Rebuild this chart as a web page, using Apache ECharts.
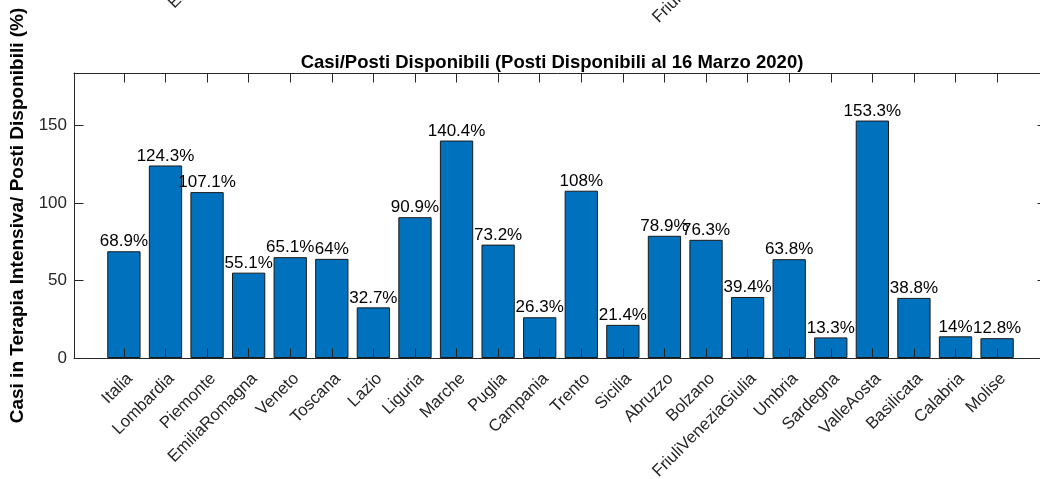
<!DOCTYPE html>
<html>
<head>
<meta charset="utf-8">
<script src="https://cdn.jsdelivr.net/npm/echarts@6/dist/echarts.min.js"></script>
<style>
  html, body { margin: 0; padding: 0; background: #fff; }
</style>
</head>
<body>
<div id="main" style="width: 1040px;height: 479px;"></div>
<script>
  // regioni e percentuale casi / posti disponibili
  var regions = ['Italia', 'Lombardia', 'Piemonte', 'EmiliaRomagna', 'Veneto', 'Toscana', 'Lazio',
    'Liguria', 'Marche', 'Puglia', 'Campania', 'Trento', 'Sicilia', 'Abruzzo', 'Bolzano',
    'FriuliVeneziaGiulia', 'Umbria', 'Sardegna', 'ValleAosta', 'Basilicata', 'Calabria', 'Molise']
  var percentages = [68.9, 124.3, 107.1, 55.1, 65.1, 64, 32.7, 90.9, 140.4, 73.2, 26.3,
    108, 21.4, 78.9, 76.3, 39.4, 63.8, 13.3, 153.3, 38.8, 14, 12.8]
  var yTicks = [0, 50, 100, 150]
  var yMax = 184

  var positions = regions.map(function (r, i) { return i + 1 })
  var font = "'Liberation Sans', Arial, Helvetica, sans-serif"
  var axisColor = '#262626'

  var chart = echarts.init(document.getElementById('main'))

  var xLabel = {
    customValues: positions,
    rotate: 45,
    margin: 12,
    verticalAlign: 'top',
    fontFamily: font,
    fontSize: 16.8,
    color: axisColor,
    formatter: function (v) { return regions[v - 1] || '' }
  }

  var xBase = {
    type: 'value',
    min: -0.2,
    max: regions.length + 1.2,
    splitLine: { show: false },
    axisLine: { show: true, onZero: false, lineStyle: { color: axisColor, width: 1 } },
    axisTick: { show: true, inside: true, length: 9.5, customValues: positions, lineStyle: { color: axisColor } },
    z: 5
  }

  var yBase = {
    type: 'value',
    gridIndex: 0,
    min: 0,
    max: yMax,
    splitLine: { show: false },
    axisLine: { show: true, onZero: false, lineStyle: { color: axisColor, width: 1 } },
    axisTick: { show: true, inside: true, length: 9.5, customValues: yTicks, lineStyle: { color: axisColor } },
    z: 5
  }

  chart.setOption({
    animation: false,
    title: {
      text: 'Casi/Posti Disponibili (Posti Disponibili al 16 Marzo 2020)',
      left: 547,
      textAlign: 'center',
      top: 48,
      textStyle: { fontFamily: font, fontSize: 18.5, fontWeight: 'bold', color: '#000' }
    },
    grid: [
      { left: 74, top: 73, width: 973, height: 285, outerBoundsMode: 'none' },
      // griglia del grafico sopra: si vedono solo le etichette tagliate
      { left: 74, top: -381, width: 973, height: 285, outerBoundsMode: 'none' }
    ],
    xAxis: [
      Object.assign({}, xBase, { gridIndex: 0, position: 'bottom', axisLabel: xLabel }),
      Object.assign({}, xBase, { gridIndex: 0, position: 'top', axisLabel: { show: false } }),
      Object.assign({}, xBase, {
        gridIndex: 1,
        position: 'bottom',
        axisLine: { show: false },
        axisTick: { show: false },
        axisLabel: xLabel
      })
    ],
    yAxis: [
      Object.assign({}, yBase, {
        position: 'left',
        name: 'Casi in Terapia Intensiva/ Posti Disponibili (%)',
        nameLocation: 'middle',
        nameGap: 24,
        nameTextStyle: { fontFamily: font, fontSize: 19, fontWeight: 'bold', color: '#000' },
        axisLabel: { customValues: yTicks, margin: 7, fontFamily: font, fontSize: 17, color: axisColor }
      }),
      Object.assign({}, yBase, { position: 'right', axisLabel: { show: false } }),
      { type: 'value', gridIndex: 1, min: 0, max: yMax, show: false }
    ],
    series: [{
      type: 'bar',
      xAxisIndex: 0,
      yAxisIndex: 0,
      barWidth: 33.3,
      data: percentages.map(function (v, i) { return [positions[i], v] }),
      itemStyle: { color: '#0072BD', borderColor: '#1a1a1a', borderWidth: 1 },
      label: {
        show: true,
        position: 'top',
        distance: 1,
        fontFamily: font,
        fontSize: 17,
        color: '#000',
        formatter: function (p) { return p.value[1] + '%' }
      }
    }]
  })
</script>
</body>
</html>
